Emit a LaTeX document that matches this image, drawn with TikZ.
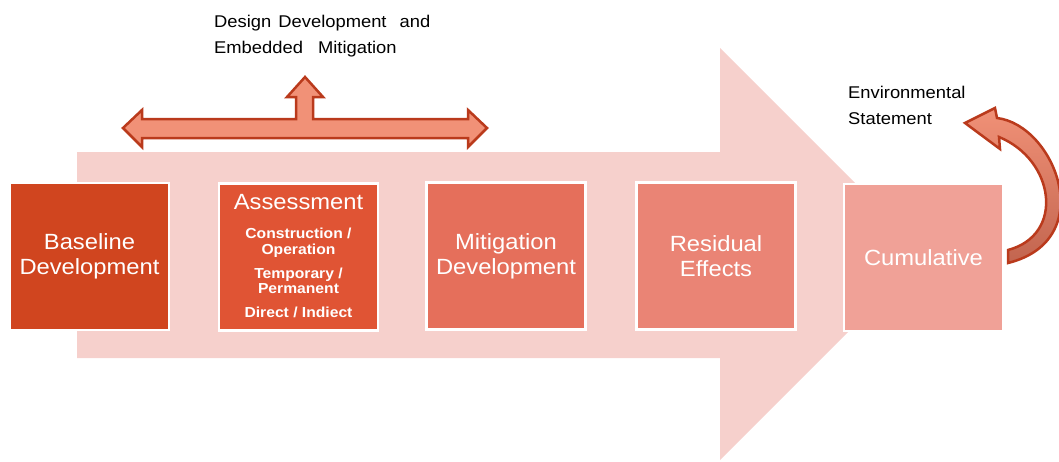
\documentclass[tikz,border=0pt]{standalone}
\usepackage{fontspec}
\setmainfont{Liberation Sans}[FakeStretch=1.08]
\definecolor{cA}{HTML}{D0451F}
\definecolor{cB}{HTML}{E05434}
\definecolor{cC}{HTML}{E56F5B}
\definecolor{cD}{HTML}{EA8475}
\definecolor{cE}{HTML}{F0A197}
\definecolor{bigarrow}{HTML}{F6D0CC}
\definecolor{arrowfill}{HTML}{F19177}
\definecolor{arrowline}{HTML}{BA3A1C}
\definecolor{arrowdark}{HTML}{C2654F}
\begin{document}
\begin{tikzpicture}[x=1pt,y=-1pt,
  box/.style={minimum width=159pt,minimum height=147pt,draw=white,line width=2.5pt,
    text=white,align=center,inner sep=0pt,font=\fontsize{22}{25}\selectfont},
  lbl/.style={text=black,anchor=base west,inner sep=0pt,font=\fontsize{17}{26}\selectfont},
  ttl/.style={text=white,anchor=base,inner sep=0pt,font=\fontsize{22}{25}\selectfont},
  sub/.style={text=white,anchor=base,inner sep=0pt,font=\bfseries\fontsize{14.5}{16}\selectfont},
  outl/.style={draw=arrowline,line width=2.5pt,line join=miter}]
\useasboundingbox (0,0) rectangle (1059,461);
% big background arrow
\fill[bigarrow] (77,152) -- (720,152) -- (720,48) -- (926,254) -- (720,460)
  -- (720,358) -- (77,358) -- cycle;
% boxes
\node[box,fill=cA] (base) at (89.5,256.5) {Baseline\\Development};
\node[box,fill=cB] (asm) at (298.5,257) {};
\node[box,fill=cC] (mit) at (506,256) {Mitigation\\Development};
\node[box,fill=cD] (res) at (716,256) {Residual\\Effects};
\node[box,fill=cE] (cum) at (923.5,257.5) {Cumulative};
% assessment texts
\node[ttl] (asmT) at (298.5,209) {Assessment};
\node[sub] (asm1) at (298.5,238) {Construction /};
\node[sub] (asm2) at (298.5,254) {Operation};
\node[sub] (asm3) at (298.5,278) {Temporary /};
\node[sub] (asm4) at (298.5,293) {Permanent};
\node[sub] (asm5) at (298.5,317) {Direct / Indiect};
% double arrow with up arrow
\draw[outl,fill=arrowfill] (123,128) -- (142,110) -- (142,119) -- (296,119) -- (296,97)
  -- (287,97) -- (305,77) -- (323,97) -- (313,97) -- (313,119) -- (468,119)
  -- (468,110) -- (487,128) -- (468,147) -- (468,138) -- (142,138) -- (142,147) -- cycle;
% labels
\node[lbl] (dd1) at (214,27) {Design\hspace{2pt} Development\hspace{8pt} and};
\node[lbl] (dd2) at (214,53) {Embedded\hspace{10pt} Mitigation};
\node[lbl] (es1) at (848,98) {Environmental};
\node[lbl] (es2) at (848,124) {Statement};
% curved arrow
\draw[outl,top color=arrowfill,bottom color=arrowdark] (965,123) -- (995,108) -- (997,118)
  .. controls (1055,125) and (1100,240) .. (1008,263) -- (1008,250)
  .. controls (1065,235) and (1055,160) .. (999,137) -- (1000,149) -- cycle;
\end{tikzpicture}
\end{document}
